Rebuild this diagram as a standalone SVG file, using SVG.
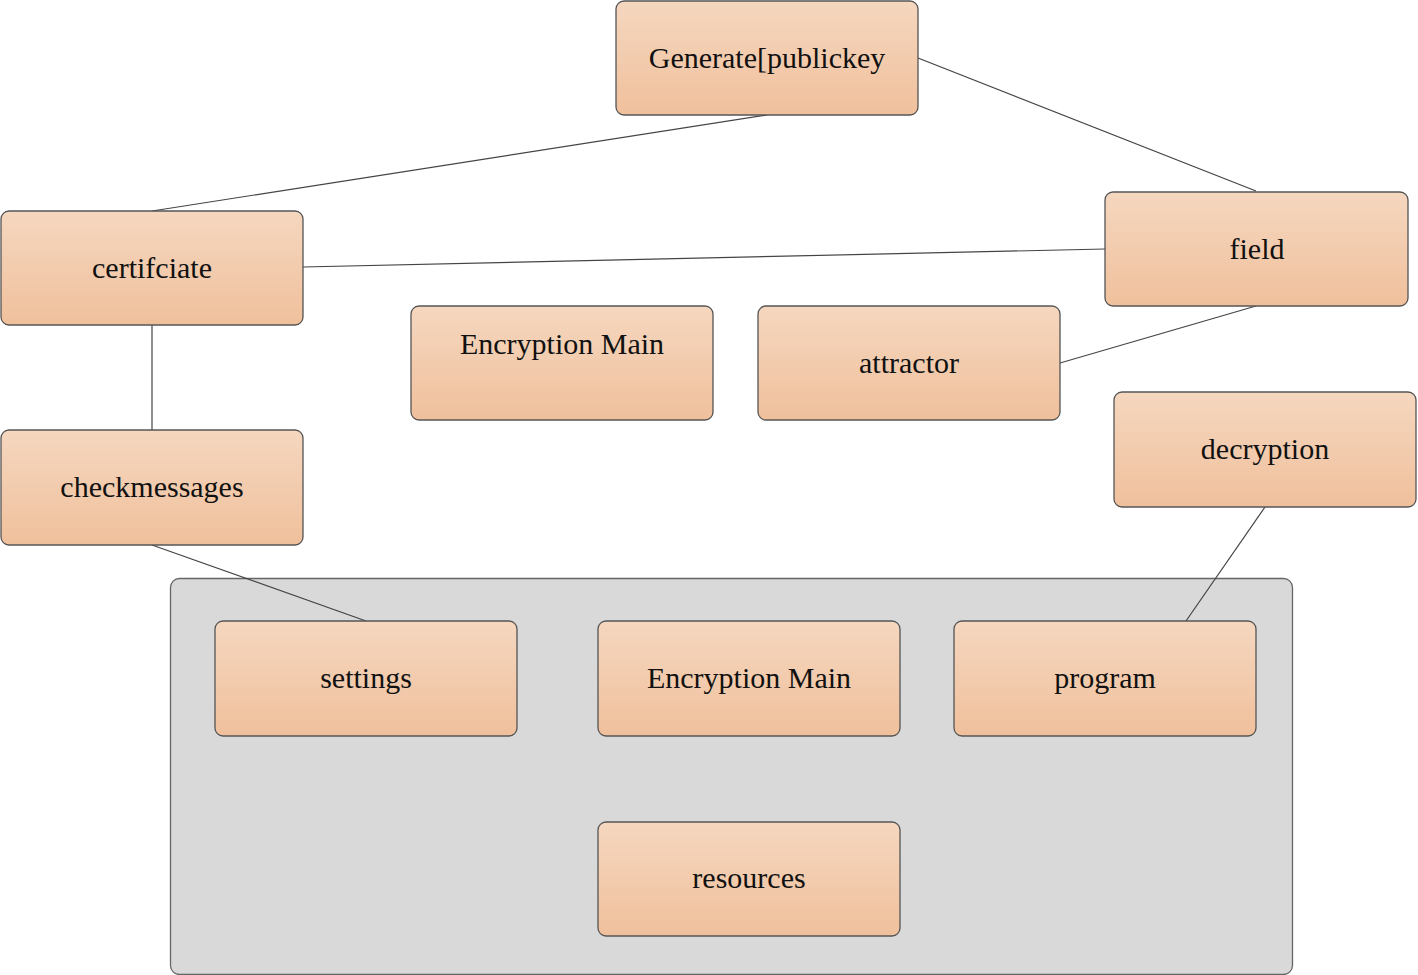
<svg xmlns="http://www.w3.org/2000/svg" width="1418" height="975" viewBox="0 0 1418 975">
<defs>
<linearGradient id="g" x1="0" y1="0" x2="0" y2="1">
<stop offset="0" stop-color="#f5d7bf"/>
<stop offset="1" stop-color="#f0c09c"/>
</linearGradient>
<style>
.n{fill:url(#g);stroke:#555;stroke-width:1.3}
.t{font-family:"Liberation Serif",serif;font-size:30px;fill:#111;text-anchor:middle}
.e{stroke:#444;stroke-width:1.2;fill:none}
</style>
</defs>
<rect width="1418" height="975" fill="#fff"/>
<g id="group">
<rect x="170.5" y="578.5" width="1122" height="396" rx="9" fill="#d9d9d9" stroke="#666" stroke-width="1.3"/>
</g>
<g id="connectors">
<line class="e" x1="767" y1="115" x2="152" y2="211"/>
<line class="e" x1="918" y1="58" x2="1256" y2="191"/>
<line class="e" x1="303" y1="267" x2="1105" y2="249"/>
<line class="e" x1="152" y1="325" x2="152" y2="430"/>
<line class="e" x1="1060" y1="363" x2="1256" y2="306"/>
<line class="e" x1="152" y1="545" x2="366" y2="621"/>
<line class="e" x1="1265" y1="507" x2="1186" y2="621"/>
</g>
<g id="generate"><rect class="n" x="616" y="1" width="302" height="114" rx="8"/><text class="t" x="767" y="68">Generate[publickey</text></g>
<g id="certifciate"><rect class="n" x="1" y="211" width="302" height="114" rx="8"/><text class="t" x="152" y="278">certifciate</text></g>
<g id="field"><rect class="n" x="1105" y="192" width="303" height="114" rx="8"/><text class="t" x="1257" y="259">field</text></g>
<g id="encryption-main-1"><rect class="n" x="411" y="306" width="302" height="114" rx="8"/><text class="t" x="562" y="354">Encryption Main</text></g>
<g id="attractor"><rect class="n" x="758" y="306" width="302" height="114" rx="8"/><text class="t" x="909" y="373">attractor</text></g>
<g id="decryption"><rect class="n" x="1114" y="392" width="302" height="115" rx="8"/><text class="t" x="1265" y="459">decryption</text></g>
<g id="checkmessages"><rect class="n" x="1" y="430" width="302" height="115" rx="8"/><text class="t" x="152" y="497">checkmessages</text></g>
<g id="settings"><rect class="n" x="215" y="621" width="302" height="115" rx="8"/><text class="t" x="366" y="688">settings</text></g>
<g id="encryption-main-2"><rect class="n" x="598" y="621" width="302" height="115" rx="8"/><text class="t" x="749" y="688">Encryption Main</text></g>
<g id="program"><rect class="n" x="954" y="621" width="302" height="115" rx="8"/><text class="t" x="1105" y="688">program</text></g>
<g id="resources"><rect class="n" x="598" y="822" width="302" height="114" rx="8"/><text class="t" x="749" y="888">resources</text></g>
</svg>
